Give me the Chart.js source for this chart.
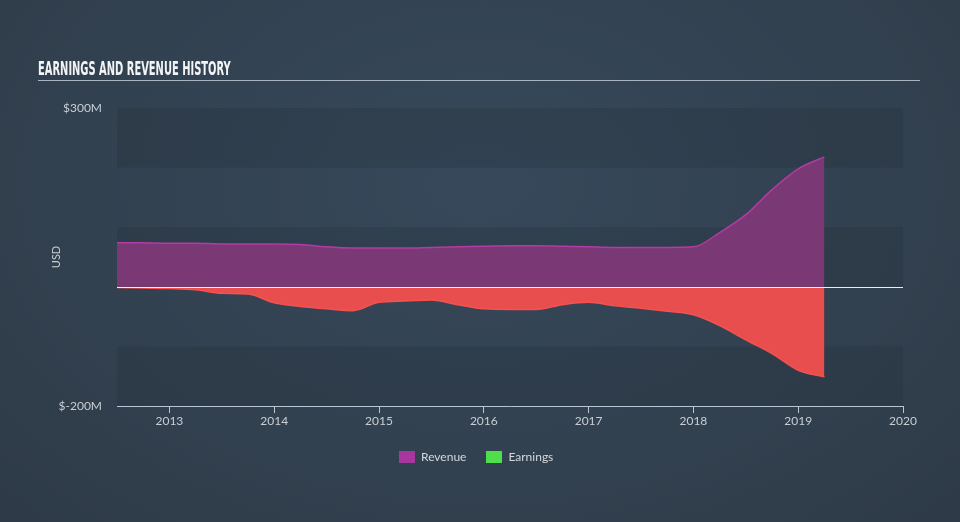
<!DOCTYPE html>
<html>
<head>
<meta charset="utf-8">
<script src="https://cdn.jsdelivr.net/npm/chart.js@4.4.0/dist/chart.umd.min.js"></script>
<style>
  html, body { margin: 0; padding: 0; }
  body {
    width: 960px; height: 522px; overflow: hidden;
    background: radial-gradient(ellipse 70% 90% at 50% 35%, #36485a 0%, #324150 60%, #2e3a47 100%);
    font-family: "Lato", "Open Sans", sans-serif;
  }
  #wrap { position: relative; width: 960px; height: 522px; }
  #title {
    position: absolute; left: 38px; top: 58px; width: 882px; height: 22px;
    border-bottom: 1.5px solid #aab4bf;
  }
  #title span {
    display: inline-block; transform: scaleX(0.58); transform-origin: left center;
    color: #f2f4f6; font-family: "Liberation Sans Narrow", "DejaVu Sans Condensed", sans-serif;
    font-weight: bold; font-size: 19px; line-height: 20px; white-space: nowrap;
  }
  #chart { position: absolute; left: 0; top: 0; }
  #legend {
    position: absolute; left: 399px; top: 449px; display: flex; align-items: center;
    color: #d4d8dc; font-size: 12px;
  }
  .item { display: flex; align-items: center; margin-right: 20px; }
  .box { width: 16px; height: 12px; margin-right: 6px; }
</style>
</head>
<body>
<div id="wrap">
  <canvas id="chart" width="960" height="522"></canvas>
  <div id="title"><span>EARNINGS AND REVENUE HISTORY</span></div>
  <div id="legend">
    <div class="item"><div class="box" style="background:#a7379d"></div>Revenue</div>
    <div class="item"><div class="box" style="background:#4fdf4c"></div>Earnings</div>
  </div>
</div>
<script>
// quarterly periods (fractional years)
const periods = [
    2012.5, 2012.75, 2013, 2013.25, 2013.5, 2013.75, 2014, 2014.25, 2014.5, 2014.75,
    2015, 2015.25, 2015.5, 2015.75, 2016, 2016.25, 2016.5, 2016.75, 2017, 2017.25,
    2017.5, 2017.75, 2018, 2018.25, 2018.5, 2018.75, 2019, 2019.25
];
// USD millions
const revenue = [
    74, 74, 73, 73, 72, 72, 72, 71, 67, 65,
    65, 65, 66, 67, 68, 69, 69, 68, 67, 66,
    66, 66, 67, 91, 121, 163, 198, 218
];
const earnings = [
    -1, -2, -3, -5, -11, -12, -27, -33, -37, -40,
    -26, -24, -22, -30, -37, -38, -38, -30, -26, -32,
    -36, -41, -47, -65, -89, -112, -140, -151
];
const yearTicks = [2013, 2014, 2015, 2016, 2017, 2018, 2019, 2020];
const yTickLabels = [-200, 300];
const bandEdges = [-200, -100, 0, 100, 200, 300];

function toPoints(values) {
    return values.map(function (v, i) { return { x: periods[i], y: v }; });
}

// alternating horizontal bands + zero line
const bandsPlugin = {
    id: "bands",
    beforeDatasetsDraw: function (chart) {
        const ctx = chart.ctx;
        const area = chart.chartArea;
        const y = chart.scales.y;
        ctx.save();
        for (let i = 0; i < bandEdges.length - 1; i++) {
            if (i % 2 === 1) continue;
            const top = y.getPixelForValue(bandEdges[i + 1]);
            const bottom = y.getPixelForValue(bandEdges[i]);
            ctx.fillStyle = "rgba(30, 40, 52, 0.2)";
            ctx.fillRect(area.left, top, area.right - area.left, bottom - top);
        }
        ctx.restore();
    },
    afterDatasetsDraw: function (chart) {
        const ctx = chart.ctx;
        const area = chart.chartArea;
        const zero = Math.round(chart.scales.y.getPixelForValue(0)) + 0.5;
        ctx.save();
        ctx.strokeStyle = "rgba(255, 255, 255, 0.9)";
        ctx.lineWidth = 1;
        ctx.beginPath();
        ctx.moveTo(area.left, zero);
        ctx.lineTo(area.right, zero);
        ctx.stroke();
        ctx.restore();
    },
};

const ctx = document.getElementById("chart").getContext("2d");
new Chart(ctx, {
    type: "line",
    data: {
        datasets: [
            {
                label: "Revenue",
                data: toPoints(revenue),
                borderColor: "#b23ba6",
                backgroundColor: "#7a3874",
                borderWidth: 1.5,
                fill: "origin",
                pointRadius: 0,
                cubicInterpolationMode: "monotone",
            },
            {
                label: "Earnings",
                data: toPoints(earnings),
                borderColor: "#f5524f",
                backgroundColor: "#e84e4e",
                borderWidth: 1.5,
                fill: "origin",
                pointRadius: 0,
                cubicInterpolationMode: "monotone",
            },
        ],
    },
    options: {
        responsive: false,
        animation: false,
        layout: { padding: { top: 108, right: 57, bottom: 96, left: 0 } },
        plugins: {
            legend: { display: false },
            tooltip: { enabled: false },
        },
        scales: {
            x: {
                type: "linear",
                min: 2012.5,
                max: 2020,
                afterBuildTicks: function (scale) {
                    scale.ticks = yearTicks.map(function (v) { return { value: v }; });
                },
                afterFit: function (scale) { scale.height = 20; },
                grid: {
                    drawOnChartArea: false,
                    drawTicks: true,
                    tickLength: 7,
                    color: "#b9c6d3",
                },
                border: { display: true, color: "#b9c6d3", width: 1 },
                ticks: {
                    color: "#c9ced4",
                    font: { family: "Lato", size: 12 },
                    padding: 1,
                    maxRotation: 0,
                    callback: function (v) { return String(v); },
                },
            },
            y: {
                min: -200,
                max: 300,
                afterBuildTicks: function (scale) {
                    scale.ticks = yTickLabels.map(function (v) { return { value: v }; });
                },
                afterFit: function (scale) { scale.width = 117; },
                grid: { display: false, drawTicks: false },
                border: { display: false },
                ticks: {
                    color: "#c9ced4",
                    font: { family: "Lato", size: 12 },
                    padding: 15,
                    callback: function (v) { return "$" + v + "M"; },
                },
                title: {
                    display: true,
                    text: "USD",
                    color: "#c9ced4",
                    font: { family: "Lato", size: 11 },
                    padding: { top: 50, bottom: 0 },
                },
            },
        },
    },
    plugins: [bandsPlugin],
});
</script>
</body>
</html>
